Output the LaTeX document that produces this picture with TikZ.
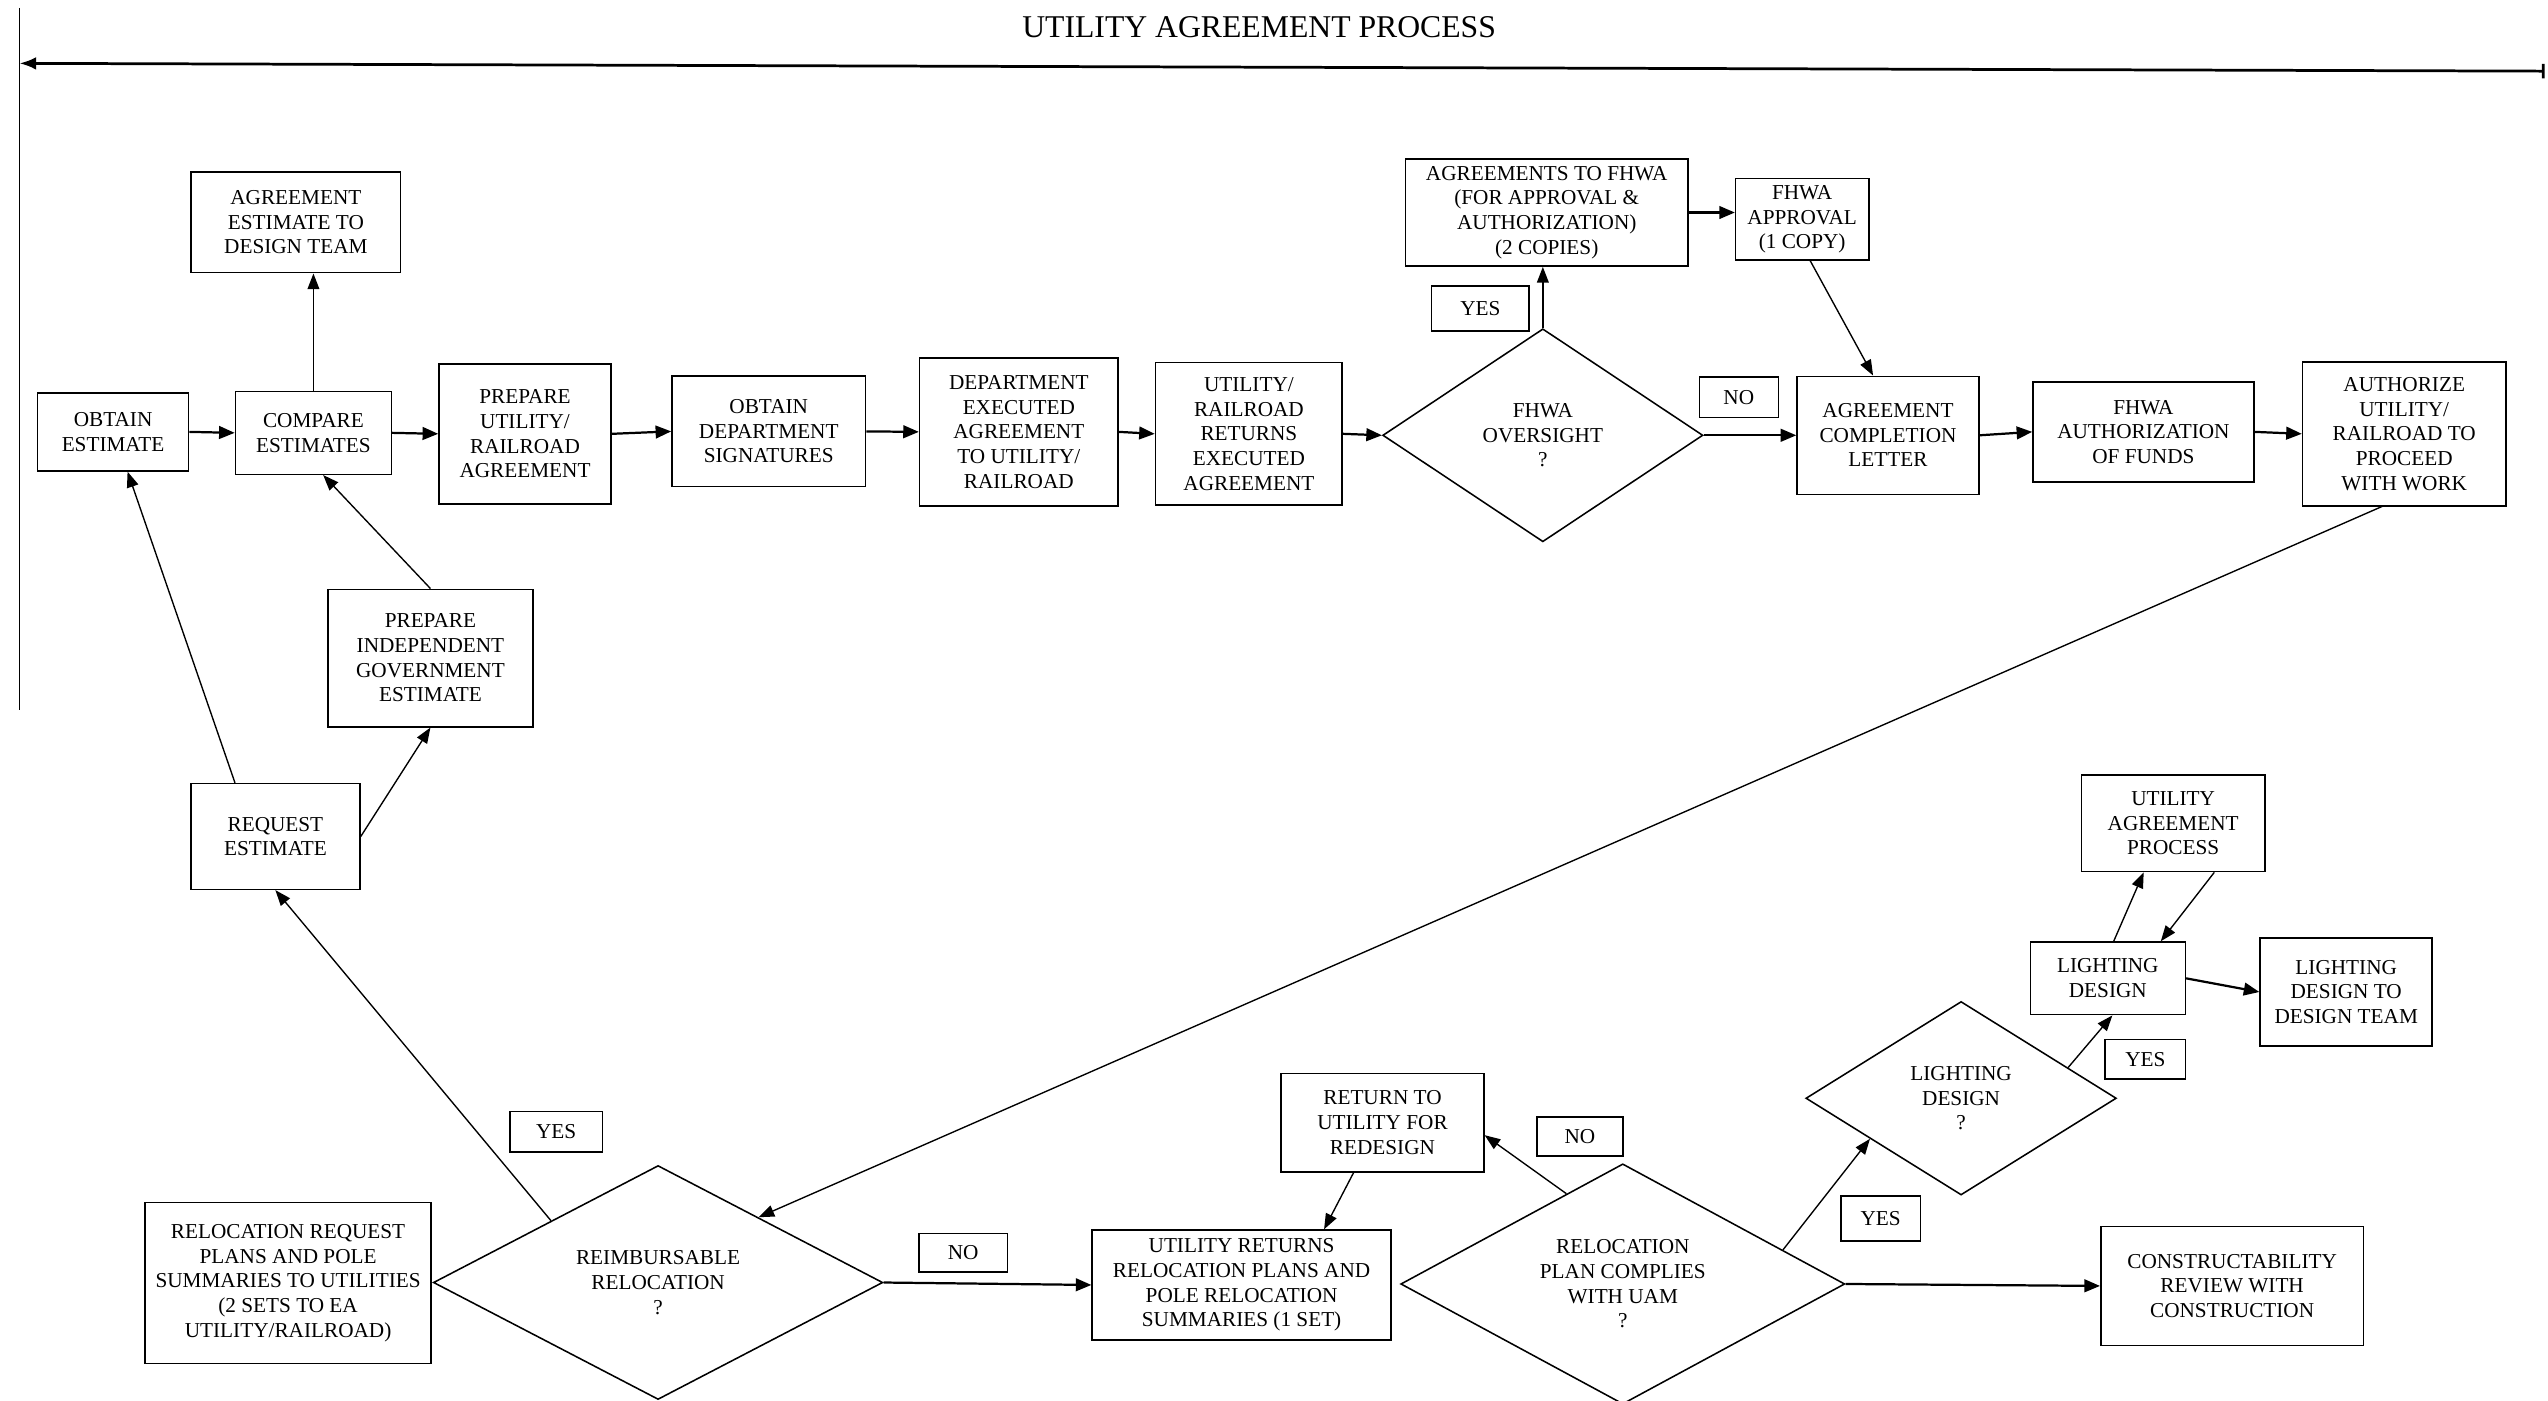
\documentclass[tikz,border=0pt]{standalone}
\usepackage{fontspec}
\setmainfont{Liberation Serif}
\usetikzlibrary{arrows.meta, shapes.geometric}

\begin{document}
\begin{tikzpicture}[
    every node/.style={
        font=\fontsize{12.4}{14.4}\selectfont,
        align=center
    },
    stepbox/.style={
        draw=black,
        line width=0.9pt,
        fill=white,
        inner sep=2pt
    },
    decision/.style={
        draw=black,
        line width=0.9pt,
        shape=diamond,
        inner sep=0pt
    },
    answer/.style={
        draw=black,
        line width=0.9pt,
        inner sep=1pt
    },
    flow/.style={
        -{Triangle[length=0.32cm,width=0.26cm]},
        line width=1.3pt
    },
    link/.style={
        -{Triangle[length=0.32cm,width=0.24cm]},
        line width=0.8pt
    }
]

\useasboundingbox (0,0) rectangle (52.27,28.73);

% ============================================================
% TITLE AND SPAN
% ============================================================

\node[
    font=\fontsize{18.5}{22}\selectfont
] (title) at (25.83,28.17)
{UTILITY AGREEMENT PROCESS};

\coordinate (spanL) at (0.40,27.43);
\coordinate (spanR) at (52.20,27.27);
\coordinate (edgeT) at (0.40,28.57);
\coordinate (edgeB) at (0.40,14.17);

\draw[{Latex[length=0.34cm,width=0.26cm]}-{Bar[width=0.3cm]}, line width=1.6pt]
    (spanL) -- (spanR);
\draw[line width=0.7pt] (edgeT) -- (edgeB);

% ============================================================
% AGREEMENT ROW
% ============================================================

\node[
    stepbox,
    minimum width=3.10cm,
    minimum height=1.60cm
] (obtain) at (2.32,19.87)
{OBTAIN\\ESTIMATE};

\node[
    stepbox,
    minimum width=3.20cm,
    minimum height=1.70cm
] (compare) at (6.43,19.85)
{COMPARE\\ESTIMATES};

\node[
    stepbox,
    minimum width=4.30cm,
    minimum height=2.07cm
] (estteam) at (6.07,24.17)
{AGREEMENT\\ESTIMATE TO\\DESIGN TEAM};

\node[
    stepbox,
    minimum width=3.53cm,
    minimum height=2.87cm
] (prepare) at (10.77,19.83)
{PREPARE\\UTILITY/\\RAILROAD\\AGREEMENT};

\node[
    stepbox,
    minimum width=3.97cm,
    minimum height=2.27cm
] (signatures) at (15.77,19.88)
{OBTAIN\\DEPARTMENT\\SIGNATURES};

\node[
    stepbox,
    minimum width=4.07cm,
    minimum height=3.03cm
] (deptexec) at (20.90,19.87)
{DEPARTMENT\\EXECUTED\\AGREEMENT\\TO UTILITY/\\RAILROAD};

\node[
    stepbox,
    minimum width=3.83cm,
    minimum height=2.93cm
] (returns) at (25.62,19.83)
{UTILITY/\\RAILROAD\\RETURNS\\EXECUTED\\AGREEMENT};

\node[
    decision,
    aspect=1.5,
    minimum width=6.57cm,
    minimum height=4.37cm
] (oversight) at (31.65,19.80)
{FHWA\\OVERSIGHT\\?};

\node[
    stepbox,
    minimum width=5.80cm,
    minimum height=2.20cm
] (tofhwa) at (31.73,24.37)
{AGREEMENTS TO FHWA\\(FOR APPROVAL \&\\AUTHORIZATION)\\(2 COPIES)};

\node[
    stepbox,
    minimum width=2.73cm,
    minimum height=1.67cm
] (approval) at (36.97,24.23)
{FHWA\\APPROVAL\\(1 COPY)};

\node[
    answer,
    minimum width=2.00cm,
    minimum height=0.93cm
] (yes1) at (30.37,22.40)
{YES};

\node[
    answer,
    minimum width=1.62cm,
    minimum height=0.83cm
] (no1) at (35.67,20.58)
{NO};

\node[
    stepbox,
    minimum width=3.73cm,
    minimum height=2.42cm
] (completion) at (38.73,19.80)
{AGREEMENT\\COMPLETION\\LETTER};

\node[
    stepbox,
    minimum width=4.53cm,
    minimum height=2.05cm
] (funds) at (43.97,19.87)
{FHWA\\AUTHORIZATION\\OF FUNDS};

\node[
    stepbox,
    minimum width=4.17cm,
    minimum height=2.95cm
] (proceed) at (49.32,19.83)
{AUTHORIZE\\UTILITY/\\RAILROAD TO\\PROCEED\\WITH WORK};

% Estimate loop
\node[
    stepbox,
    minimum width=4.20cm,
    minimum height=2.82cm
] (indep) at (8.83,15.23)
{PREPARE\\INDEPENDENT\\GOVERNMENT\\ESTIMATE};

\node[
    stepbox,
    minimum width=3.47cm,
    minimum height=2.17cm
] (request) at (5.65,11.57)
{REQUEST\\ESTIMATE};

% ============================================================
% RELOCATION ROW
% ============================================================

\node[
    stepbox,
    minimum width=5.87cm,
    minimum height=3.31cm
] (relreq) at (5.91,2.41)
{RELOCATION REQUEST\\PLANS AND POLE\\SUMMARIES TO UTILITIES\\(2 SETS TO EA\\UTILITY/RAILROAD)};

\node[
    decision,
    aspect=1.9,
    minimum width=9.22cm,
    minimum height=4.80cm
] (reimb) at (13.50,2.42)
{REIMBURSABLE\\RELOCATION\\?};

\node[
    answer,
    minimum width=1.90cm,
    minimum height=0.83cm
] (yes2) at (11.41,5.51)
{YES};

\node[
    answer,
    minimum width=1.82cm,
    minimum height=0.79cm
] (no2) at (19.76,3.03)
{NO};

\node[
    stepbox,
    minimum width=6.13cm,
    minimum height=2.25cm
] (planret) at (25.47,2.37)
{UTILITY RETURNS\\RELOCATION PLANS AND\\POLE RELOCATION\\SUMMARIES (1 SET)};

\node[
    stepbox,
    minimum width=4.16cm,
    minimum height=2.02cm
] (redesign) at (28.36,5.70)
{RETURN TO\\UTILITY FOR\\REDESIGN};

\node[
    answer,
    minimum width=1.76cm,
    minimum height=0.80cm
] (no3) at (32.41,5.41)
{NO};

\node[
    decision,
    aspect=1.85,
    minimum width=9.11cm,
    minimum height=4.93cm
] (complies) at (33.29,2.39)
{RELOCATION\\PLAN COMPLIES\\WITH UAM\\?};

\node[
    answer,
    minimum width=1.63cm,
    minimum height=0.92cm
] (yes3) at (38.58,3.73)
{YES};

\node[
    stepbox,
    minimum width=5.39cm,
    minimum height=2.44cm
] (constr) at (45.79,2.35)
{CONSTRUCTABILITY\\REVIEW WITH\\CONSTRUCTION};

% Lighting branch
\node[
    decision,
    aspect=1.6,
    minimum width=6.37cm,
    minimum height=3.97cm
] (lightq) at (40.23,6.20)
{LIGHTING\\DESIGN\\?};

\node[
    answer,
    minimum width=1.65cm,
    minimum height=0.81cm
] (yes4) at (44.01,7.00)
{YES};

\node[
    stepbox,
    minimum width=3.18cm,
    minimum height=1.49cm
] (lighting) at (43.24,8.66)
{LIGHTING\\DESIGN};

\node[
    stepbox,
    minimum width=3.53cm,
    minimum height=2.21cm
] (lightteam) at (48.13,8.38)
{LIGHTING\\DESIGN TO\\DESIGN TEAM};

\node[
    stepbox,
    minimum width=3.76cm,
    minimum height=1.98cm
] (uap) at (44.58,11.84)
{UTILITY\\AGREEMENT\\PROCESS};

% ============================================================
% CONNECTORS
% ============================================================

\draw[flow] (obtain.east) -- (compare.west);
\draw[flow] (compare.east) -- (prepare.west);
\draw[flow] (prepare.east) -- (signatures.west);
\draw[flow] (signatures.east) -- (deptexec.west);
\draw[flow] (deptexec.east) -- (returns.west);
\draw[flow] (returns.east) -- (oversight.west);
\draw[flow] (oversight.east) -- (completion.west);
\draw[flow] (completion.east) -- (funds.west);
\draw[flow] (funds.east) -- (proceed.west);
\draw[flow] (tofhwa.east) -- (tofhwa.east -| approval.west);

\draw[link] (compare.north) -- (compare.north |- estteam.south);
\draw[link] (oversight.north) -- (oversight.north |- tofhwa.south);
\draw[link] (approval.-79) -- (completion.104);

% Long return to the relocation row
\draw[link] (proceed.-107) -- (reimb.33);

% Estimate loop
\draw[link] (reimb.150) -- (request.south);
\draw[link] (request.127) -- (obtain.-70);
\draw[link] (request.east) -- (indep.south);
\draw[link] (indep.north) -- (compare.-77);

% Relocation row
\draw[flow] (reimb.east) -- (planret.west);
\draw[link] (redesign.-120) -- (planret.34);
\draw[link] (complies.122) -- (redesign.-7);
\draw[link] (complies.12) -- (lightq.204);
\draw[flow] (complies.east) -- (constr.west);

% Lighting branch
\draw[link] (lightq.16) -- (lighting.-83);
\draw[link] (lighting.81) -- (uap.-121);
\draw[link] (uap.-50) -- (lighting.35);
\draw[flow] (lighting.east) -- (lightteam.west);

\end{tikzpicture}
\end{document}
